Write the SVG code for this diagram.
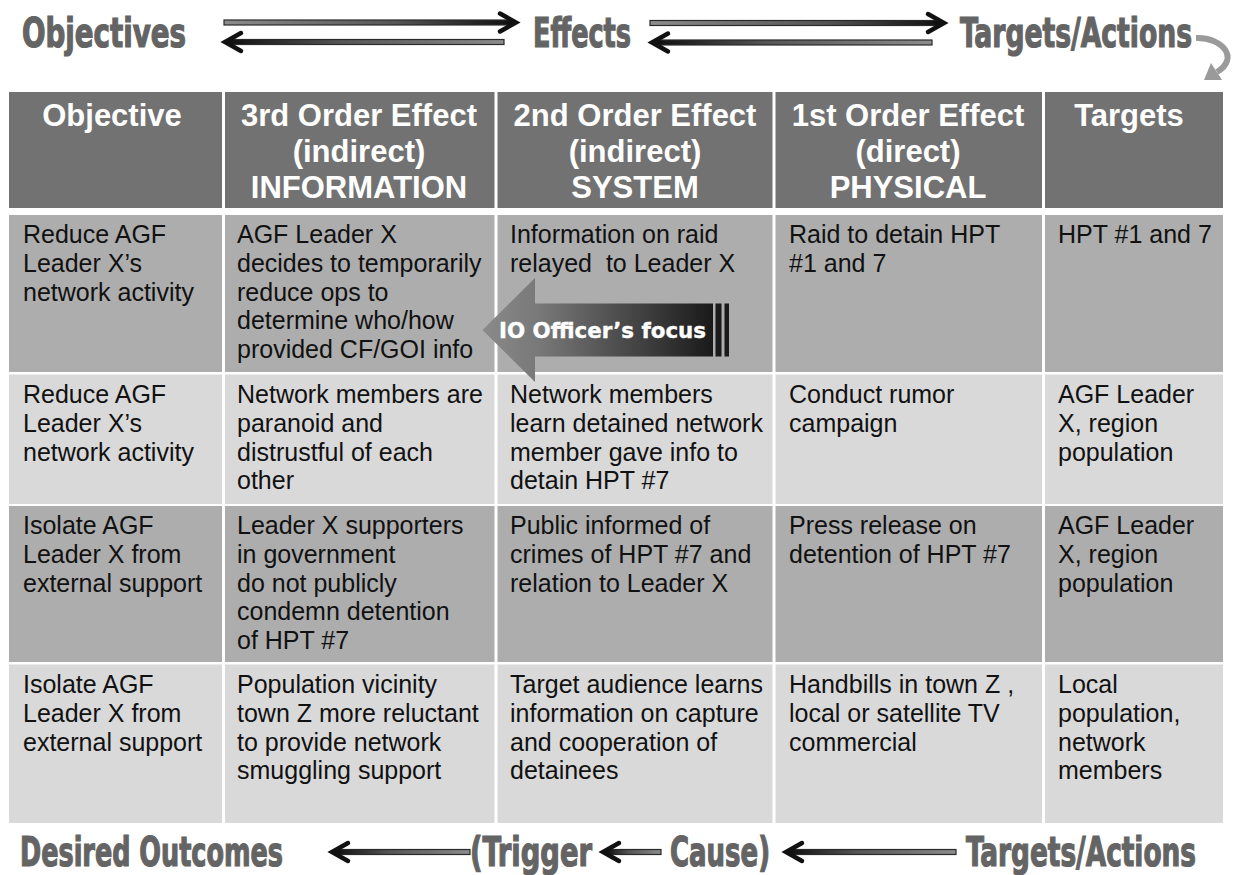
<svg xmlns="http://www.w3.org/2000/svg" width="1234" height="875" viewBox="0 0 1234 875">
<defs>
<style>
.title{font-family:'Liberation Sans Narrow','DejaVu Sans Condensed','Liberation Sans',sans-serif;font-weight:bold;fill:#646464;stroke:#646464;stroke-width:0.9;font-size:30px}
.hdr{font-family:'Liberation Sans',Arial,sans-serif;font-weight:bold;font-size:31px;fill:#ffffff;text-anchor:middle}
.body{font-family:'Liberation Sans',Arial,sans-serif;font-size:25px;fill:#111111}
.hcell{fill:#727272}
.dark{fill:#adadad}
.light{fill:#d9d9d9}
.chev{fill:none;stroke:#111;stroke-width:4.5;stroke-linecap:round;stroke-linejoin:miter}
.shaft{stroke:#2a2a2a;stroke-width:1.2}
</style>
<linearGradient id="gR" x1="0" y1="0" x2="1" y2="0">
<stop offset="0" stop-color="#8c8c8c"/><stop offset="0.6" stop-color="#555"/><stop offset="1" stop-color="#0f0f0f"/>
</linearGradient>
<linearGradient id="gL" x1="0" y1="0" x2="1" y2="0">
<stop offset="0" stop-color="#0f0f0f"/><stop offset="0.4" stop-color="#555"/><stop offset="1" stop-color="#8c8c8c"/>
</linearGradient>
<linearGradient id="gIO" gradientUnits="userSpaceOnUse" x1="482" y1="0" x2="713" y2="0">
<stop offset="0" stop-color="#8a8a8a"/><stop offset="0.25" stop-color="#787878"/><stop offset="1" stop-color="#1a1a1a"/>
</linearGradient>
</defs>
<rect width="1234" height="875" fill="#ffffff"/>

<g id="titles">
<text class="title" transform="translate(22,47) scale(1,1.38)" textLength="164" lengthAdjust="spacingAndGlyphs">Objectives</text>
<text class="title" transform="translate(533,47) scale(1,1.38)" textLength="98" lengthAdjust="spacingAndGlyphs">Effects</text>
<text class="title" transform="translate(960,47) scale(1,1.38)" textLength="232" lengthAdjust="spacingAndGlyphs">Targets/Actions</text>
<text class="title" transform="translate(20,866) scale(1,1.38)" textLength="263" lengthAdjust="spacingAndGlyphs">Desired Outcomes</text>
<text class="title" transform="translate(470,866) scale(1,1.38)" textLength="122" lengthAdjust="spacingAndGlyphs">(Trigger</text>
<text class="title" transform="translate(670,866) scale(1,1.38)" textLength="100" lengthAdjust="spacingAndGlyphs">Cause)</text>
<text class="title" transform="translate(966,866) scale(1,1.38)" textLength="230" lengthAdjust="spacingAndGlyphs">Targets/Actions</text>
</g>

<g id="table">
<g id="header">
<rect class="hcell" x="9" y="92" width="213" height="116"/>
<rect class="hcell" x="225" y="92" width="269.5" height="116"/>
<rect class="hcell" x="497.5" y="92" width="275" height="116"/>
<rect class="hcell" x="775.5" y="92" width="266.5" height="116"/>
<rect class="hcell" x="1045" y="92" width="178" height="116"/>
<text class="hdr" x="112" y="126">Objective</text>
<text class="hdr" x="359" y="126">3rd Order Effect<tspan x="359" dy="36">(indirect)</tspan><tspan x="359" dy="36">INFORMATION</tspan></text>
<text class="hdr" x="635" y="126">2nd Order Effect<tspan x="635" dy="36">(indirect)</tspan><tspan x="635" dy="36">SYSTEM</tspan></text>
<text class="hdr" x="908" y="126">1st Order Effect<tspan x="908" dy="36">(direct)</tspan><tspan x="908" dy="36">PHYSICAL</tspan></text>
<text class="hdr" x="1129" y="126">Targets</text>
</g>

<g id="row1">
<rect class="dark" x="9" y="215" width="213" height="157"/>
<rect class="dark" x="225" y="215" width="269.5" height="157"/>
<rect class="dark" x="497.5" y="215" width="275" height="157"/>
<rect class="dark" x="775.5" y="215" width="266.5" height="157"/>
<rect class="dark" x="1045" y="215" width="178" height="157"/>
<text class="body" x="23" y="243">Reduce AGF<tspan x="23" dy="28.8">Leader X’s</tspan><tspan x="23" dy="28.8">network activity</tspan></text>
<text class="body" x="237" y="243">AGF Leader X<tspan x="237" dy="28.8">decides to temporarily</tspan><tspan x="237" dy="28.8">reduce ops to</tspan><tspan x="237" dy="28.8">determine who/how</tspan><tspan x="237" dy="28.8">provided CF/GOI info</tspan></text>
<text class="body" x="510" y="243" xml:space="preserve">Information on raid<tspan x="510" dy="28.8">relayed  to Leader X</tspan></text>
<text class="body" x="789" y="243">Raid to detain HPT<tspan x="789" dy="28.8">#1 and 7</tspan></text>
<text class="body" x="1058" y="243">HPT #1 and 7</text>
</g>

<g id="row2">
<rect class="light" x="9" y="374.5" width="213" height="129.5"/>
<rect class="light" x="225" y="374.5" width="269.5" height="129.5"/>
<rect class="light" x="497.5" y="374.5" width="275" height="129.5"/>
<rect class="light" x="775.5" y="374.5" width="266.5" height="129.5"/>
<rect class="light" x="1045" y="374.5" width="178" height="129.5"/>
<text class="body" x="23" y="403">Reduce AGF<tspan x="23" dy="28.8">Leader X’s</tspan><tspan x="23" dy="28.8">network activity</tspan></text>
<text class="body" x="237" y="403">Network members are<tspan x="237" dy="28.8">paranoid and</tspan><tspan x="237" dy="28.8">distrustful of each</tspan><tspan x="237" dy="28.8">other</tspan></text>
<text class="body" x="510" y="403">Network members<tspan x="510" dy="28.8">learn detained network</tspan><tspan x="510" dy="28.8">member gave info to</tspan><tspan x="510" dy="28.8">detain HPT #7</tspan></text>
<text class="body" x="789" y="403">Conduct rumor<tspan x="789" dy="28.8">campaign</tspan></text>
<text class="body" x="1058" y="403">AGF Leader<tspan x="1058" dy="28.8">X, region</tspan><tspan x="1058" dy="28.8">population</tspan></text>
</g>

<g id="row3">
<rect class="dark" x="9" y="506" width="213" height="156"/>
<rect class="dark" x="225" y="506" width="269.5" height="156"/>
<rect class="dark" x="497.5" y="506" width="275" height="156"/>
<rect class="dark" x="775.5" y="506" width="266.5" height="156"/>
<rect class="dark" x="1045" y="506" width="178" height="156"/>
<text class="body" x="23" y="534">Isolate AGF<tspan x="23" dy="28.8">Leader X from</tspan><tspan x="23" dy="28.8">external support</tspan></text>
<text class="body" x="237" y="534">Leader X supporters<tspan x="237" dy="28.8">in government</tspan><tspan x="237" dy="28.8">do not publicly</tspan><tspan x="237" dy="28.8">condemn detention</tspan><tspan x="237" dy="28.8">of HPT #7</tspan></text>
<text class="body" x="510" y="534">Public informed of<tspan x="510" dy="28.8">crimes of HPT #7 and</tspan><tspan x="510" dy="28.8">relation to Leader X</tspan></text>
<text class="body" x="789" y="534">Press release on<tspan x="789" dy="28.8">detention of HPT #7</tspan></text>
<text class="body" x="1058" y="534">AGF Leader<tspan x="1058" dy="28.8">X, region</tspan><tspan x="1058" dy="28.8">population</tspan></text>
</g>

<g id="row4">
<rect class="light" x="9" y="664.5" width="213" height="158.5"/>
<rect class="light" x="225" y="664.5" width="269.5" height="158.5"/>
<rect class="light" x="497.5" y="664.5" width="275" height="158.5"/>
<rect class="light" x="775.5" y="664.5" width="266.5" height="158.5"/>
<rect class="light" x="1045" y="664.5" width="178" height="158.5"/>
<text class="body" x="23" y="693">Isolate AGF<tspan x="23" dy="28.8">Leader X from</tspan><tspan x="23" dy="28.8">external support</tspan></text>
<text class="body" x="237" y="693">Population vicinity<tspan x="237" dy="28.8">town Z more reluctant</tspan><tspan x="237" dy="28.8">to provide network</tspan><tspan x="237" dy="28.8">smuggling support</tspan></text>
<text class="body" x="510" y="693">Target audience learns<tspan x="510" dy="28.8">information on capture</tspan><tspan x="510" dy="28.8">and cooperation of</tspan><tspan x="510" dy="28.8">detainees</tspan></text>
<text class="body" x="789" y="693">Handbills in town Z ,<tspan x="789" dy="28.8">local or satellite TV</tspan><tspan x="789" dy="28.8">commercial</tspan></text>
<text class="body" x="1058" y="693">Local<tspan x="1058" dy="28.8">population,</tspan><tspan x="1058" dy="28.8">network</tspan><tspan x="1058" dy="28.8">members</tspan></text>
</g>
</g>

<g id="io-focus">
<polygon points="482.5,330 535,278 535,303.5 713,303.5 713,356.5 535,356.5 535,382" fill="url(#gIO)"/>
<rect x="715.5" y="303.5" width="6" height="53" fill="#1a1a1a"/>
<rect x="724.5" y="303.5" width="4.5" height="53" fill="#1a1a1a"/>
<text x="499" y="338" font-family="'DejaVu Sans',Verdana,sans-serif" font-weight="bold" font-size="21.5" fill="#ffffff" stroke="#ffffff" stroke-width="0.4" textLength="207" lengthAdjust="spacingAndGlyphs">IO Officer’s focus</text>
</g>

<g id="connectors">
<rect class="shaft" x="224" y="20" width="288" height="5" fill="url(#gR)"/>
<path class="chev" d="M500,13.5 L516,22.5 L500,31.5"/>
<rect class="shaft" x="229" y="39.5" width="275" height="5" fill="url(#gL)"/>
<path class="chev" d="M241,33 L225,42 L241,51"/>
<rect class="shaft" x="650" y="20.5" width="290" height="5" fill="url(#gR)"/>
<path class="chev" d="M928,14 L944,23 L928,32"/>
<rect class="shaft" x="656" y="40" width="276" height="5" fill="url(#gL)"/>
<path class="chev" d="M668,33.5 L652,42.5 L668,51.5"/>
<path d="M1196,38 C1222,37 1240,58 1217,72" fill="none" stroke="#9a9a9a" stroke-width="6"/>
<polygon points="1204,80 1222,80 1211,63" fill="#9a9a9a"/>
<rect class="shaft" x="336" y="849.5" width="134" height="5" fill="url(#gL)"/>
<path class="chev" d="M348,843 L332,852 L348,861"/>
<rect class="shaft" x="607" y="849.5" width="54" height="5" fill="url(#gL)"/>
<path class="chev" d="M619,843 L603,852 L619,861"/>
<rect class="shaft" x="790" y="849.5" width="166" height="5" fill="url(#gL)"/>
<path class="chev" d="M802,843 L786,852 L802,861"/>
</g>
</svg>
